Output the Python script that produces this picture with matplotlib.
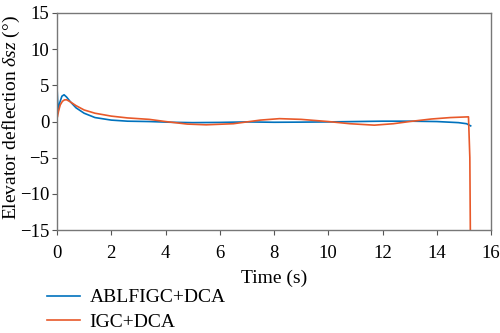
import numpy as np
import matplotlib
matplotlib.use("Agg")
import matplotlib.pyplot as plt

plt.rcParams["font.family"] = ["Liberation Serif", "DejaVu Serif"]
plt.rcParams["mathtext.fontset"] = "custom"
plt.rcParams["mathtext.rm"] = "Liberation Serif"
plt.rcParams["mathtext.it"] = "Liberation Serif:italic"

# --- donnees ---
t_ablf = [0.0, 0.04, 0.10, 0.18, 0.26, 0.35, 0.5, 0.7, 1.0, 1.4, 2.0, 2.6, 3.4, 4.2,
          5.0, 6.0, 7.0, 8.0, 9.0, 10.0, 11.0, 12.0, 13.0, 14.0, 14.8, 15.1, 15.2, 15.25]
d_ablf = [4.8, 1.4, 2.6, 3.5, 3.7, 3.4, 2.7, 1.9, 1.15, 0.55, 0.2, 0.05, 0.0, -0.1,
          -0.15, -0.12, -0.05, -0.1, -0.08, -0.05, 0.0, 0.05, 0.05, 0.0, -0.15, -0.3, -0.5, -0.6]

t_igc = [0.02, 0.06, 0.12, 0.2, 0.28, 0.36, 0.5, 0.7, 1.0, 1.4, 2.0, 2.6, 3.4, 4.0,
         4.8, 5.5, 6.5, 7.0, 7.5, 8.2, 9.0, 10.0, 10.8, 11.7, 12.4, 13.0, 13.8, 14.5,
         15.17, 15.22, 15.24]
d_igc = [0.7, 1.5, 2.3, 2.8, 3.0, 3.0, 2.7, 2.2, 1.6, 1.15, 0.75, 0.5, 0.3, 0.0,
         -0.35, -0.45, -0.3, -0.05, 0.2, 0.4, 0.3, 0.0, -0.3, -0.5, -0.3, 0.0, 0.35, 0.55,
         0.65, -5.0, -16.0]

c_blue = "#0072BD"
c_red = "#E8592A"

fig = plt.figure(figsize=(5.0, 3.33), dpi=100)
ax = fig.add_axes([0.114, 0.309, 0.868, 0.652])

ax.plot(t_ablf, d_ablf, color=c_blue, lw=1.2, label="ABLFIGC+DCA")
ax.plot(t_igc, d_igc, color=c_red, lw=1.2, label="IGC+DCA")

ax.set_xlim(0, 16)
ax.set_ylim(-15, 15)
ax.set_xticks(range(0, 17, 2))
ax.set_yticks(range(-15, 16, 5))
ax.set_xlabel("Time (s)", fontsize=14, labelpad=6)
ax.set_ylabel(r"Elevator deflection $\delta sz$ (°)", fontsize=14)
ax.yaxis.set_label_coords(-0.08, 0.52)
ax.tick_params(labelsize=13.5, direction="out", length=3.5, color="#555555", pad=2)
ax.tick_params(axis="x", pad=7)
for s in ax.spines.values():
    s.set_color("#777777")
    s.set_linewidth(1.0)

fig.legend(loc="upper left", bbox_to_anchor=(0.074, 0.162), frameon=False, borderpad=0,
           fontsize=14, handlelength=1.7, handletextpad=0.5, labelspacing=0.35)

fig.savefig("out.png", dpi=100)
